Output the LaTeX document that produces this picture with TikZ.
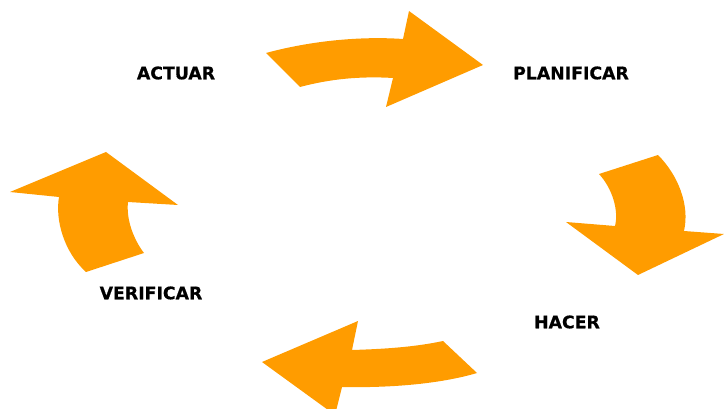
\documentclass[tikz,border=0pt]{standalone}
\usepackage{fontspec}
\newfontfamily\labfont{DejaVu Sans}[BoldFeatures={FakeBold=0.6}]
\definecolor{arroworange}{RGB}{255,156,0}
\tikzset{
  bigarrow/.style={fill=arroworange, draw=none},
  steplabel/.style={font=\labfont\bfseries\fontsize{17.3}{20}\selectfont, text=black, inner sep=0pt, anchor=center}
}
\begin{document}
\begin{tikzpicture}[x=1pt,y=-1pt]
\useasboundingbox (0,0) rectangle (724,409);
\clip (0,0) rectangle (724,409);
% top arrow (ACTUAR -> PLANIFICAR)
\fill[bigarrow] (266,53) .. controls (310,41) and (360,36) .. (403,39) -- (409,11) -- (483,65) -- (386,107) -- (393,78)
  .. controls (360,76) and (330,79) .. (300,87) -- cycle;
% right arrow (PLANIFICAR -> HACER)
\fill[bigarrow] (599,174) -- (658,155) .. controls (678,175) and (690,205) .. (684,231) -- (724,234) -- (638,275) -- (566,222) -- (615,226)
  .. controls (619,210) and (612,188) .. (599,174) -- cycle;
% bottom arrow (HACER -> VERIFICAR)
\fill[bigarrow] (443,341) -- (477,373) .. controls (440,384) and (390,388) .. (342,387) -- (335,415) -- (262,362) -- (358,321) -- (352,350)
  .. controls (385,349) and (415,347) .. (443,341) -- cycle;
% left arrow (VERIFICAR -> ACTUAR)
\fill[bigarrow] (86,272) -- (144,253) .. controls (134,240) and (126,220) .. (128,202) -- (178,205) -- (106,152) -- (10,192) -- (59,197)
  .. controls (55,220) and (64,252) .. (86,272) -- cycle;
% labels
\node[steplabel] (actuar) at (176,73) {ACTUAR};
\node[steplabel] (planificar) at (571,73) {PLANIFICAR};
\node[steplabel] (hacer) at (567,322) {HACER};
\node[steplabel] (verificar) at (151,293) {VERIFICAR};
\end{tikzpicture}
\end{document}
